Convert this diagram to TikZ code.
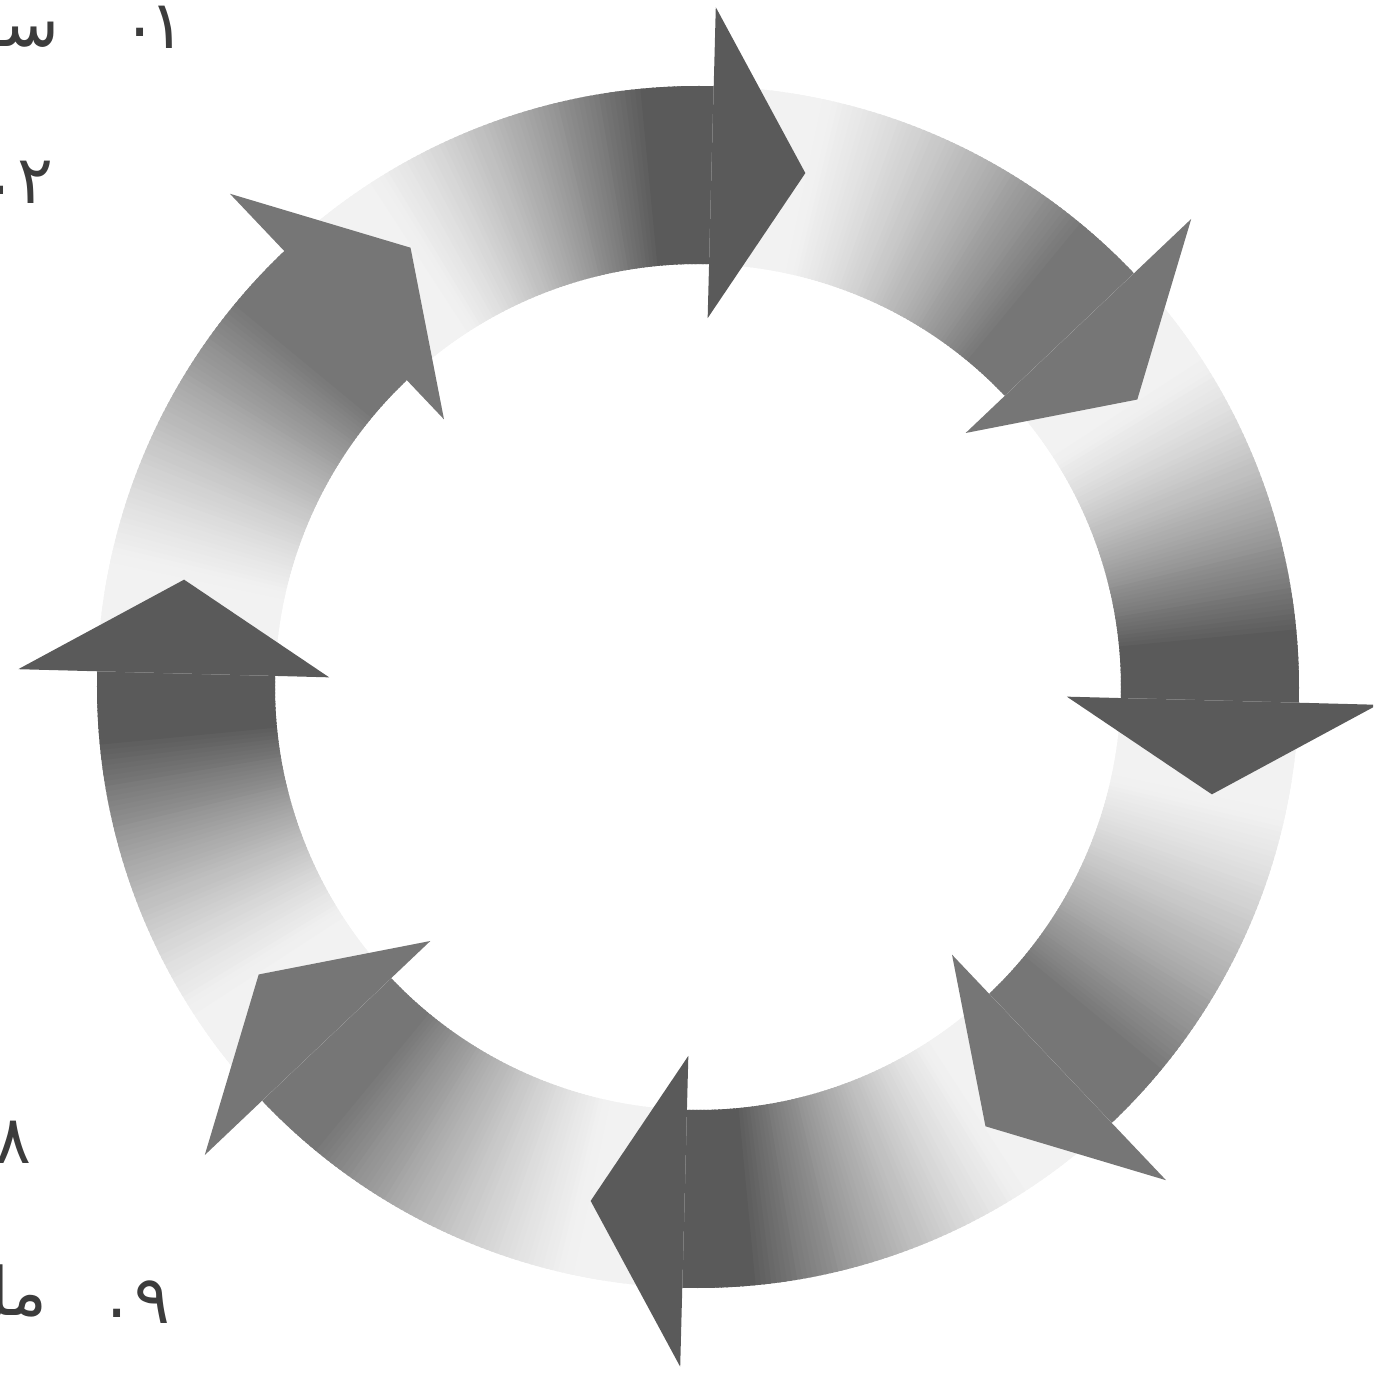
\documentclass[tikz,border=0pt]{standalone}
\usepackage{fontspec}
\usepackage{xcolor}
\usetikzlibrary{calc}
\TeXXeTstate=1
\newfontfamily\farsifont[Script=Arabic]{DejaVu Sans}
\definecolor{ink}{HTML}{3C3C3C}
\definecolor{tailgray}{HTML}{F2F2F2}
\definecolor{headdark}{HTML}{5A5A5A}
\definecolor{headsoft}{HTML}{767676}
\tikzset{
  sliver/.style={fill=#1,draw=none},
  cyclehead/.style={fill=#1,draw=none},
  farsi/.style={font=\farsifont\fontsize{19}{22}\selectfont,text=ink,inner sep=0pt}
}

\begin{document}
\begin{tikzpicture}[x=1cm,y=1cm]
  \useasboundingbox (-6.98,-6.99) rectangle (6.75,6.87);
  \clip (-6.98,-6.99) rectangle (6.75,6.87);
  \def\rin{4.23}
  \def\rout{6.01}

  % ring bodies, light at the tail, dark next to the head
  \foreach \n/\hc in {0/headdark,1/headsoft,2/headdark,3/headsoft,
                      4/headdark,5/headsoft,6/headdark,7/headsoft}{
    \pgfmathsetmacro\hbase{88.5-45*\n}
    \foreach \sl in {0,...,89}{
      \pgfmathsetmacro\angA{\hbase+45-0.5*\sl}
      \pgfmathsetmacro\angB{\angA-0.8}
      \pgfmathsetmacro\ramp{min(1,max(0.001,((\sl+0.5)/90-0.22)/0.63))}
      \pgfmathtruncatemacro\pct{100*\ramp^1.3}
      \fill[sliver=\hc!\pct!tailgray]
        (\angA:\rin) arc[start angle=\angA,end angle=\angB,radius=\rin]
        -- (\angB:\rout) arc[start angle=\angB,end angle=\angA,radius=\rout]
        -- cycle;
    }
  }

  % heads on top of the next tail
  \foreach \n/\hc in {0/headdark,1/headsoft,2/headdark,3/headsoft,
                      4/headdark,5/headsoft,6/headdark,7/headsoft}{
    \pgfmathsetmacro\hbase{88.5-45*\n}
    \fill[cyclehead=\hc] (\hbase:3.69) -- ({\hbase-10.3}:5.25)
      -- (\hbase:6.80) -- cycle;
  }

  % cut-off list items at the margin
  \node[farsi] (num1) at (-5.31,6.60) {\beginR ۱\endR};
  \node[farsi] (dot1) at (-5.58,6.55) {.};
  \node[farsi,anchor=east] (word1) at (-6.38,6.52) {\beginR سـ\endR};
  \node[farsi] (num2) at (-6.63,5.05) {\beginR ۲\endR};
  \node[farsi] (dot2) at (-6.98,4.97) {.};
  \node[farsi] (num8) at (-6.85,-4.55) {\beginR ۸\endR};
  \node[farsi] (num9) at (-5.46,-6.15) {\beginR ۹\endR};
  \node[farsi] (dot9) at (-5.81,-6.26) {.};
  \node[farsi,anchor=east] (word9) at (-6.50,-6.08) {\beginR مل\endR};
\end{tikzpicture}
\end{document}
